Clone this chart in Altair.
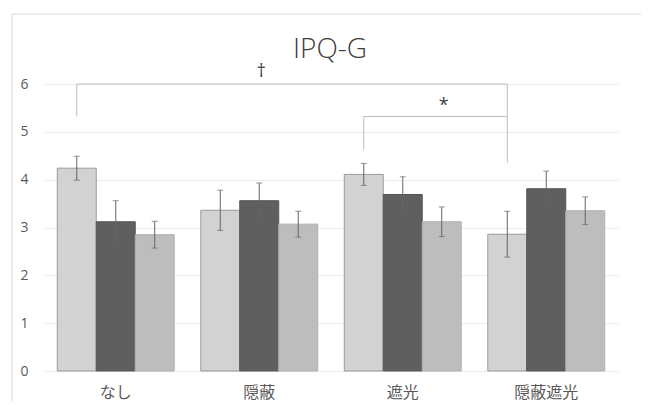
import altair as alt
import pandas as pd

# ---- data ----
categories = ["なし", "隠蔽", "遮光", "隠蔽遮光"]
series = ["1", "2", "3"]
means = [
    [4.24, 3.12, 2.85],
    [3.36, 3.56, 3.07],
    [4.11, 3.69, 3.12],
    [2.86, 3.81, 3.35],
]
errors = [
    [0.25, 0.44, 0.28],
    [0.42, 0.37, 0.27],
    [0.23, 0.37, 0.31],
    [0.48, 0.37, 0.29],
]
y_ticks = [0, 1, 2, 3, 4, 5, 6]
chart_title = "IPQ-G"

# significance brackets (category, series, value, order)
bracket_dagger_cat = ["なし", "なし", "隠蔽遮光", "隠蔽遮光"]
bracket_dagger_val = [5.32, 6.0, 6.0, 4.35]
bracket_star_cat = ["遮光", "遮光", "隠蔽遮光"]
bracket_star_val = [4.63, 5.32, 5.32]
marks_text = ["†", "*"]
marks_cat = ["隠蔽", "遮光"]
marks_ser = ["2", "3"]
marks_val = [6.26, 5.55]

fills = ["#d2d2d2", "#5f5f5f", "#bdbdbd"]
strokes = ["#9a9a9a", "#555555", "#b0b0b0"]

rows = []
for ci, c in enumerate(categories):
    for si, s in enumerate(series):
        m = means[ci][si]
        e = errors[ci][si]
        rows.append({"cat": c, "ser": s, "mean": m, "lo": m - e, "hi": m + e})
df = pd.DataFrame(rows)

br_rows = []
for i, (c, v) in enumerate(zip(bracket_dagger_cat, bracket_dagger_val)):
    br_rows.append({"br": "dagger", "cat": c, "ser": "1", "val": v, "ord": i})
for i, (c, v) in enumerate(zip(bracket_star_cat, bracket_star_val)):
    br_rows.append({"br": "star", "cat": c, "ser": "1", "val": v, "ord": i})
br = pd.DataFrame(br_rows)

txt = pd.DataFrame({"cat": marks_cat, "ser": marks_ser, "val": marks_val, "label": marks_text})

W, H = 597, 287

xenc = alt.X(
    "cat:N", sort=categories,
    scale=alt.Scale(domain=categories, range=[0, 574], paddingInner=0.185, paddingOuter=0.0925),
    axis=alt.Axis(title=None, labelAngle=0, ticks=False, domain=False,
                  labelFont="Noto Sans CJK JP", labelFontSize=16, labelColor="#595959",
                  labelPadding=13),
)
xoff = alt.XOffset("ser:N", sort=series, scale=alt.Scale(domain=series, paddingInner=0, paddingOuter=0))
yscale = alt.Scale(domain=[0, 6], nice=False)

bars = alt.Chart(df).mark_bar(strokeWidth=1).encode(
    x=xenc,
    xOffset=xoff,
    y=alt.Y("mean:Q", scale=yscale,
            axis=alt.Axis(title=None, values=y_ticks, ticks=False, domain=False,
                          labelFont="Open Sans", labelFontSize=14, labelColor="#595959",
                          labelPadding=16, gridColor="#ececec")),
    color=alt.Color("ser:N", scale=alt.Scale(domain=series, range=fills), legend=None),
    stroke=alt.Stroke("ser:N", scale=alt.Scale(domain=series, range=strokes), legend=None),
)

err = alt.Chart(df).mark_rule(color="#666666", strokeWidth=1).encode(
    x=alt.X("cat:N", sort=categories), xOffset=alt.XOffset("ser:N", sort=series),
    y="lo:Q", y2="hi:Q",
)
caps = alt.Chart(df).transform_fold(["lo", "hi"], as_=["k", "v"]).mark_tick(
    color="#666666", size=6, thickness=1
).encode(
    x=alt.X("cat:N", sort=categories), xOffset=alt.XOffset("ser:N", sort=series),
    y="v:Q",
)

brackets = alt.Chart(br).mark_line(color="#bdbdbd", strokeWidth=1).encode(
    x=alt.X("cat:N", sort=categories), xOffset=alt.XOffset("ser:N", sort=series),
    y="val:Q", detail="br:N", order="ord:Q",
)

texts = alt.Chart(txt).mark_text(fontSize=18, color="#404040", font="Open Sans", dx=2).encode(
    x=alt.X("cat:N", sort=categories), xOffset=alt.XOffset("ser:N", sort=series),
    y="val:Q", text="label:N",
)

frame_data = pd.DataFrame({"t": [chart_title]})
left_border = alt.Chart(frame_data).mark_rule(color="#d9d9d9", strokeWidth=1).encode(
    x=alt.value(-32), y=alt.value(-70), y2=alt.value(H + 30)
)
top_border = alt.Chart(frame_data).mark_rule(color="#d9d9d9", strokeWidth=1).encode(
    x=alt.value(-32), x2=alt.value(W), y=alt.value(-70)
)
title = alt.Chart(frame_data).mark_text(
    fontSize=28, font="Open Sans", fontWeight=300, color="#404040",
    align="center", baseline="alphabetic"
).encode(x=alt.value(286), y=alt.value(-26), text="t:N")

chart = alt.layer(left_border, top_border, title, bars, err, caps, brackets, texts).properties(
    width=W, height=H,
    padding={"left": 3, "top": 5, "right": 2, "bottom": 2},
).configure_view(stroke=None)

chart.save("out.html", embed_options={"renderer": "svg", "actions": False})
